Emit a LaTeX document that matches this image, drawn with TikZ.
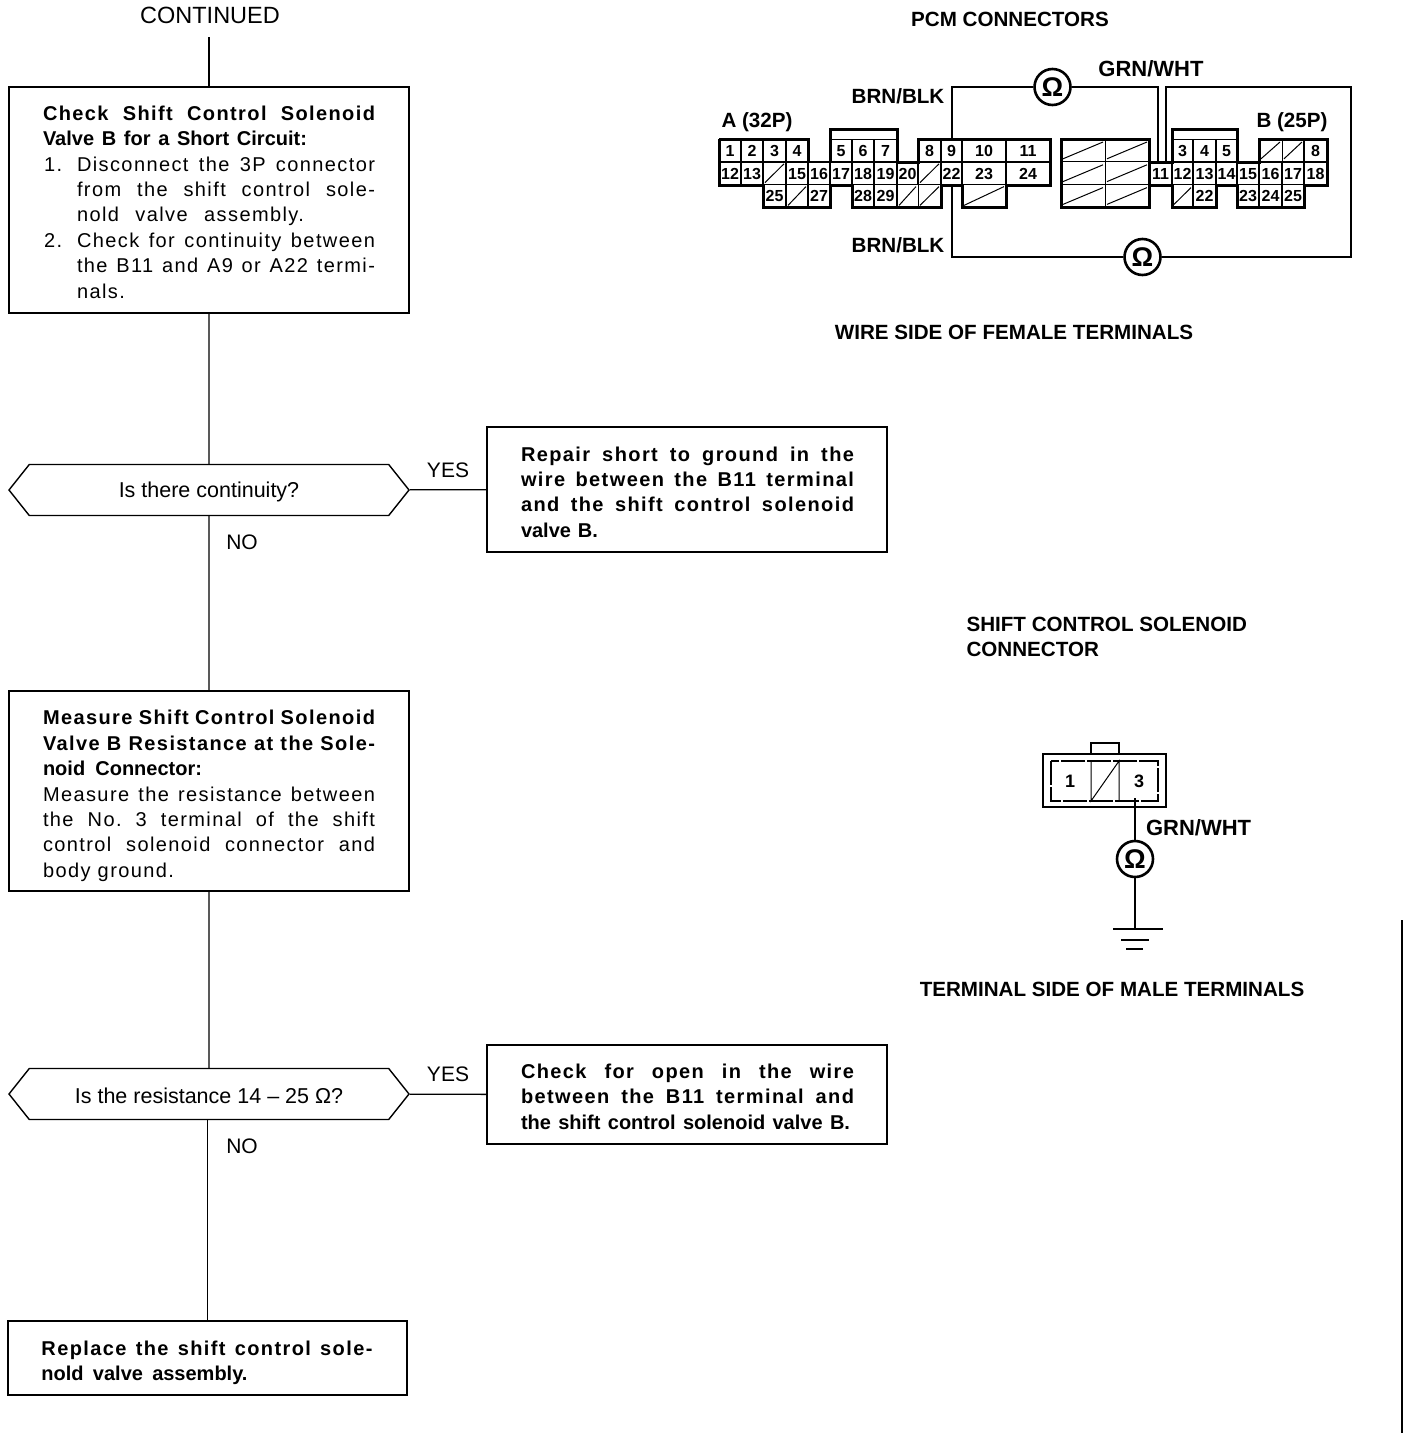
\documentclass[tikz,border=0pt]{standalone}
\usepackage{fontspec}
\setmainfont{Liberation Sans}
\newfontfamily\trackfont{Liberation Sans}[LetterSpace=7]
\usetikzlibrary{shapes.symbols,positioning}

\newcommand{\fl}[2][332pt]{\makebox[#1][s]{\spaceskip=.25em plus 1fil\xspaceskip=\spaceskip #2}}
\newcommand{\stepl}[2]{\hspace*{1pt}\makebox[33pt][l]{#1}\fl[298pt]{#2}}
\newcommand{\contl}[2][298pt]{\hspace*{34pt}\fl[#1]{#2}}
\newcommand{\tight}{\normalfont\bfseries}

\tikzset{
  textbox/.style={draw,line width=1.4pt,inner sep=0pt,minimum width=400pt,align=left,text width=332pt,
    font=\fontsize{20}{25.4}\selectfont\trackfont},
  boldbox/.style={textbox,font=\fontsize{20}{25.4}\selectfont\trackfont\bfseries},
  decision/.style={draw,line width=1.4pt,signal,signal to=east and west,signal pointer angle=103,inner sep=0pt,
    minimum width=400pt,minimum height=51pt,font=\fontsize{21.5}{23}\selectfont},
  link/.style={line width=1.4pt},
  tag/.style={font=\fontsize{21}{25}\selectfont},
  caption/.style={font=\fontsize{20.6}{25.6}\selectfont\bfseries,align=left},
  widecaption/.style={font=\fontsize{22}{25.6}\selectfont\bfseries},
  pincell/.style={draw,line width=1.2pt,inner sep=0pt,text height=11.5pt,text depth=0pt,font=\fontsize{16}{16}\selectfont\bfseries},
  hatchline/.style={line width=1pt},
  wire/.style={line width=2pt},
  shell/.style={line width=3pt,line join=miter},
  meter/.style={draw,circle,line width=2.6pt,minimum size=36pt,inner sep=0pt,font=\fontsize{27}{27}\selectfont\bfseries},
}

\begin{document}
\begin{tikzpicture}[x=1pt,y=-1pt]
  \useasboundingbox (0,0) rectangle (1408,1438);

  % flow chart
  \node[font=\fontsize{23.5}{25}\selectfont] (continued) at (210,15) {CONTINUED};
  \coordinate (start) at (209,37);

  \node[textbox,minimum height=226pt] (checkshort) at (209,200) {\rule{0pt}{18.5pt}%
    \textbf{\fl{Check Shift Control Solenoid}}\\
    \fl[264pt]{\tight Valve B for a Short Circuit:}\\
    \stepl{1.}{Disconnect the 3P connector}\\
    \contl{from the shift control sole-}\\
    \contl[227pt]{nold valve assembly.}\\
    \stepl{2.}{Check for continuity between}\\
    \contl{the B11 and A9 or A22 termi-}\\
    \contl[45pt]{nals.}};

  \node[decision] (continuity) at (209,490) {\rule{0pt}{20pt}Is there continuity?};

  \node[boldbox,minimum height=125pt] (repairshort) at (687,489.5) {\rule{0pt}{19.5pt}%
    \fl[333pt]{Repair short to ground in the}\\
    \fl[333pt]{wire between the B11 terminal}\\
    \fl[333pt]{and the shift control solenoid}\\
    \fl[77pt]{\tight valve B.}};

  \node[textbox,minimum height=200pt] (measure) at (209,791) {\rule{0pt}{24.5pt}%
    \textbf{\fl{Measure Shift Control Solenoid}}\\
    \textbf{\fl{Valve B Resistance at the Sole-}}\\
    \fl[159pt]{\tight noid Connector:}\\
    \fl{Measure the resistance between}\\
    \fl{the No. 3 terminal of the shift}\\
    \fl{control solenoid connector and}\\
    \fl[131pt]{body ground.}};

  \node[decision] (resistance) at (209,1094) {\rule{0pt}{20pt}Is the resistance 14 -- 25 Ω?};

  \node[boldbox,minimum height=99pt] (checkopen) at (687,1094.5) {\rule{0pt}{18.5pt}%
    \fl[333pt]{Check for open in the wire}\\
    \fl[333pt]{between the B11 terminal and}\\
    \fl[329pt]{\tight the shift control solenoid valve B.}};

  \node[boldbox,minimum height=74pt,minimum width=399pt] (replace) at (207.5,1358) {\rule{0pt}{24.5pt}%
    \fl[331pt]{Replace the shift control sole-}\\
    \fl[206pt]{\tight nold valve assembly.}};

  \draw[link] (start) -- (checkshort);
  \draw[link] (checkshort) -- (continuity);
  \draw[link] (continuity) -- (measure);
  \draw[link] (measure) -- (resistance);
  \draw[link] (resistance.south -| replace.north) -- (replace);
  \draw[link] (continuity) -- (repairshort);
  \draw[link] (resistance) -- (checkopen);

  \node[tag] (yesa) at (448,470) {YES};
  \node[tag] (noa) at (242,542) {NO};
  \node[tag] (yesb) at (448,1074) {YES};
  \node[tag] (nob) at (242,1146) {NO};

  % pcm connectors
  \node[caption] (pcmtitle) at (1010,19) {PCM CONNECTORS};
  \node[widecaption] (grnwhta) at (1151,69) {GRN/WHT};
  \node[caption] (brnblka) at (898,96) {BRN/BLK};
  \node[caption] (brnblkb) at (898,245) {BRN/BLK};
  \node[caption] (alabel) at (757,122.5) {A (32P)};
  \node[caption] (blabel) at (1292,122.5) {B (25P)};
  \node[caption] (wireside) at (1014,332) {WIRE SIDE OF FEMALE TERMINALS};

  % connector A
  \foreach \xa/\xb/\row/\lab in {719/741/0/1,741/763/0/2,763/786/0/3,786/808/0/4,830/852/0/5,852/874/0/6,874/897/0/7,
      918/941/0/8,941/962/0/9,962/1006/0/10,1006/1050/0/11,
      719/741/1/12,741/763/1/13,786/808/1/15,808/830/1/16,830/852/1/17,852/874/1/18,874/897/1/19,897/918/1/20,
      941/962/1/22,962/1006/1/23,1006/1050/1/24,
      763/786/2/25,808/830/2/27,852/874/2/28,874/897/2/29}
  {
    \pgfmathsetmacro{\cx}{(\xa+\xb)/2}
    \pgfmathsetmacro{\cy}{150.5+\row*22.8}
    \pgfmathsetmacro{\cellw}{\xb-\xa}
    \node[pincell,minimum width=\cellw pt,minimum height=22.8pt] (A\lab) at (\cx,\cy) {\lab};
  }
  \foreach \xa/\xb/\row in {763/786/1,918/941/1,786/808/2,897/918/2,918/941/2,962/1006/2}
  {
    \pgfmathsetmacro{\ya}{139+\row*22.8}
    \pgfmathsetmacro{\yb}{\ya+22.8}
    \draw[hatchline] (\xa,\ya) rectangle (\xb,\yb);
    \draw[hatchline] (\xa+2,\yb-2) -- (\xb-2,\ya+2);
  }
  \draw[shell] (719,139) -- (808,139) -- (808,162);
  \draw[shell] (830,162) -- (830,129) -- (897,129) -- (897,162) -- (918,162)
    -- (918,139) -- (1050,139) -- (1050,185) -- (1006,185) -- (1006,207) -- (962,207) -- (962,185) -- (941,185)
    -- (941,207) -- (852,207) -- (852,185) -- (830,185) -- (830,207) -- (763,207) -- (763,185) -- (719,185) -- (719,139);

  % connector B
  \foreach \xa/\xb/\row in {1061/1105/0,1105/1149/0,1061/1105/1,1105/1149/1,1061/1105/2,1105/1149/2,
      1259/1282/0,1282/1304/0,1172/1193/2}
  {
    \pgfmathsetmacro{\ya}{139+\row*22.8}
    \pgfmathsetmacro{\yb}{\ya+22.8}
    \draw[hatchline] (\xa,\ya) rectangle (\xb,\yb);
    \draw[hatchline] (\xa+2,\yb-3) -- (\xb-2,\ya+3);
  }
  \foreach \xa/\xb/\row/\lab in {1172/1193/0/3,1193/1216/0/4,1216/1237/0/5,1304/1327/0/8,
      1149/1172/1/11,1172/1193/1/12,1193/1216/1/13,1216/1237/1/14,1237/1259/1/15,1259/1282/1/16,1282/1304/1/17,1304/1327/1/18,
      1193/1216/2/22,1237/1259/2/23,1259/1282/2/24,1282/1304/2/25}
  {
    \pgfmathsetmacro{\cx}{(\xa+\xb)/2}
    \pgfmathsetmacro{\cy}{150.5+\row*22.8}
    \pgfmathsetmacro{\cellw}{\xb-\xa}
    \node[pincell,minimum width=\cellw pt,minimum height=22.8pt] (B\lab) at (\cx,\cy) {\lab};
  }
  \draw[shell] (1061,139) rectangle (1149,207);
  \draw[shell] (1149,162) -- (1172,162) -- (1172,129) -- (1237,129) -- (1237,162) -- (1259,162) -- (1259,139) -- (1327,139)
    -- (1327,185) -- (1304,185) -- (1304,207) -- (1237,207) -- (1237,185) -- (1216,185) -- (1216,207) -- (1172,207)
    -- (1172,185) -- (1149,185);

  % meter wires
  \node[meter] (meterup) at (1052.5,87) {Ω};
  \node[meter] (meterdown) at (1142.5,257) {Ω};
  \coordinate (grnleft) at (1158,162);
  \coordinate (grnright) at (1166,162);
  \coordinate (wirecorner) at (1351,87);
  \draw[wire] (A9.north) |- (meterup);
  \draw[wire] (meterup) -| (grnleft);
  \draw[wire] (grnright) |- (wirecorner) |- (meterdown);
  \draw[wire] (meterdown) -| (A22.south);

  % solenoid connector
  \node[caption] (solenoidtitle) [anchor=west] at (963,637) {SHIFT CONTROL SOLENOID\\CONNECTOR};
  \draw[wire] (1091,754) -- (1091,743) -- (1119,743) -- (1119,754);
  \draw[wire] (1043,754) rectangle (1166,807);
  \draw[line width=1.4pt,dash pattern=on 24pt off 2pt] (1051,761) rectangle (1158,801);
  \node[pincell,draw=none,text height=13pt,font=\fontsize{18}{18}\selectfont\bfseries] (soleone) at (1070,781) {1};
  \node[pincell,draw=none,text height=13pt,font=\fontsize{18}{18}\selectfont\bfseries] (solethree) at (1139,781) {3};
  \draw[hatchline] (1091,761) -- (1091,801) -- (1119,761) -- (1119,801);
  \node[meter] (metersole) at (1135,859) {Ω};
  \coordinate (pinthree) at (1135,798);
  \coordinate (gnd) at (1135,929);
  \draw[wire] (pinthree) -- (metersole);
  \draw[wire] (metersole) -- (gnd);
  \draw[line width=1.6pt] (1113,929) -- (1163,929);
  \draw[line width=2.6pt] (1121,940) -- (1149,940);
  \draw[line width=1.6pt] (1126,949) -- (1143,949);
  \node[widecaption] (grnwhtb) [anchor=west] at (1142.5,828) {GRN/WHT};
  \node[caption] (termside) at (1112,989) {TERMINAL SIDE OF MALE TERMINALS};

  % margin line
  \draw[line width=2.5pt] (1402,920) -- (1402,1433);
\end{tikzpicture}
\end{document}
